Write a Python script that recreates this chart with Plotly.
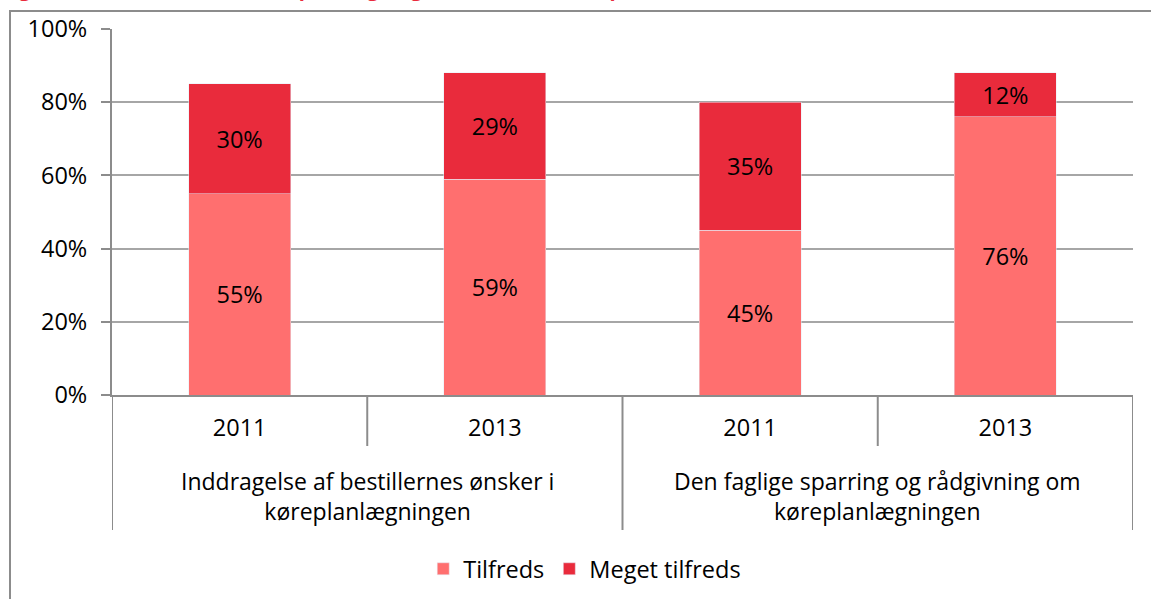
import plotly.graph_objects as go

# Survey results, share of respondents (%)
groups = [
    "Inddragelse af bestillernes ønsker i<br>køreplanlægningen",
    "Den faglige sparring og rådgivning om<br>køreplanlægningen",
]
years = ["2011", "2013", "2011", "2013"]
group_of_bar = [0, 0, 1, 1]
tilfreds = [55, 59, 45, 76]
meget_tilfreds = [30, 29, 35, 12]
y_ticks = [0, 20, 40, 60, 80, 100]

title_text = "Figur 83 Tilfredshed med køreplanlægningen 2011-2013 (Bus, pct.)"

W, H = 1151, 599
L, R, T, B = 112, 18, 29, 204
plot_w = W - L - R
plot_h = H - T - B

FONT = "'Open Sans', Lato, sans-serif"
FS = 23.5
FS_GROUP = 23
C_LIGHT = "#FF6F6F"
C_DARK = "#E92B3C"
GRID = "#A6A6A6"
AXIS = "#8C8C8C"

xpos = list(range(len(years)))

fig = go.Figure()
fig.add_trace(go.Bar(
    x=xpos, y=tilfreds, name="Tilfreds", marker_color=C_LIGHT,
    text=[f"{v}%" for v in tilfreds], textposition="inside",
    insidetextanchor="middle", textfont=dict(color="black", size=FS, family=FONT),
    width=0.4, cliponaxis=False,
))
fig.add_trace(go.Bar(
    x=xpos, y=meget_tilfreds, name="Meget tilfreds", marker_color=C_DARK,
    text=[f"{v}%" for v in meget_tilfreds], textposition="inside",
    insidetextanchor="middle", textfont=dict(color="black", size=FS, family=FONT),
    width=0.4, cliponaxis=False,
))

# Category separators below the axis: short ones inside a group, long ones at group edges
def px_to_paper_y(px):
    return -px / plot_h

shapes = []
n = len(years)
for i in range(n + 1):
    b = i - 0.5
    at_group_edge = i == 0 or i == n or group_of_bar[i] != group_of_bar[i - 1]
    depth = 135 if at_group_edge else 51
    shapes.append(dict(type="line", xref="x", yref="paper", x0=b, x1=b,
                       y0=0, y1=px_to_paper_y(depth),
                       line=dict(color=AXIS, width=2)))

# Outer chart frame
shapes.append(dict(type="rect", xref="paper", yref="paper",
                   x0=(10 - L) / plot_w, x1=(W + 20 - L) / plot_w,
                   y0=-(H + 20 - T - plot_h) / plot_h, y1=1 + (T - 11) / plot_h,
                   line=dict(color=AXIS, width=2), fillcolor="rgba(0,0,0,0)"))

annotations = []
for g, label in enumerate(groups):
    idx = [i for i, gg in enumerate(group_of_bar) if gg == g]
    center = sum(idx) / len(idx)
    annotations.append(dict(
        x=center, xref="x", y=px_to_paper_y(101), yref="paper",
        text=label, showarrow=False, yanchor="middle",
        font=dict(size=FS_GROUP, color="black", family=FONT),
    ))

annotations.append(dict(
    x=-L / plot_w, xref="paper", y=1 + (T - 4) / plot_h, yref="paper",
    xanchor="left", yanchor="bottom", text=f"<b>{title_text}</b>",
    showarrow=False, font=dict(size=20, color=C_DARK, family=FONT),
))

fig.update_layout(
    width=W, height=H,
    margin=dict(l=L, r=R, t=T, b=B, autoexpand=False),
    barmode="stack",
    plot_bgcolor="white", paper_bgcolor="white",
    font=dict(family=FONT, size=FS, color="black"),
    showlegend=True,
    legend=dict(orientation="h", x=0.463, xanchor="center",
                y=px_to_paper_y(174), yanchor="middle",
                font=dict(size=FS, family=FONT), itemwidth=30,
                traceorder="normal"),
    shapes=shapes,
    annotations=annotations,
    uniformtext=dict(mode=False),
)
fig.update_xaxes(
    range=[-0.5, n - 0.5], tickvals=xpos, ticktext=years,
    showline=True, linecolor=AXIS, linewidth=2, ticks="",
    showgrid=False, zeroline=False, ticklabelstandoff=11,
    tickfont=dict(size=FS, family=FONT),
)
fig.update_yaxes(
    range=[0, 100], tickvals=y_ticks, ticktext=[f"{v}%" for v in y_ticks],
    showline=True, linecolor=AXIS, linewidth=2,
    ticks="outside", ticklen=9, tickcolor=AXIS, tickwidth=2,
    showgrid=True, gridcolor=GRID, gridwidth=2, zeroline=False,
    ticklabelstandoff=9, tickfont=dict(size=FS, family=FONT),
)

fig.write_html("out.html")
